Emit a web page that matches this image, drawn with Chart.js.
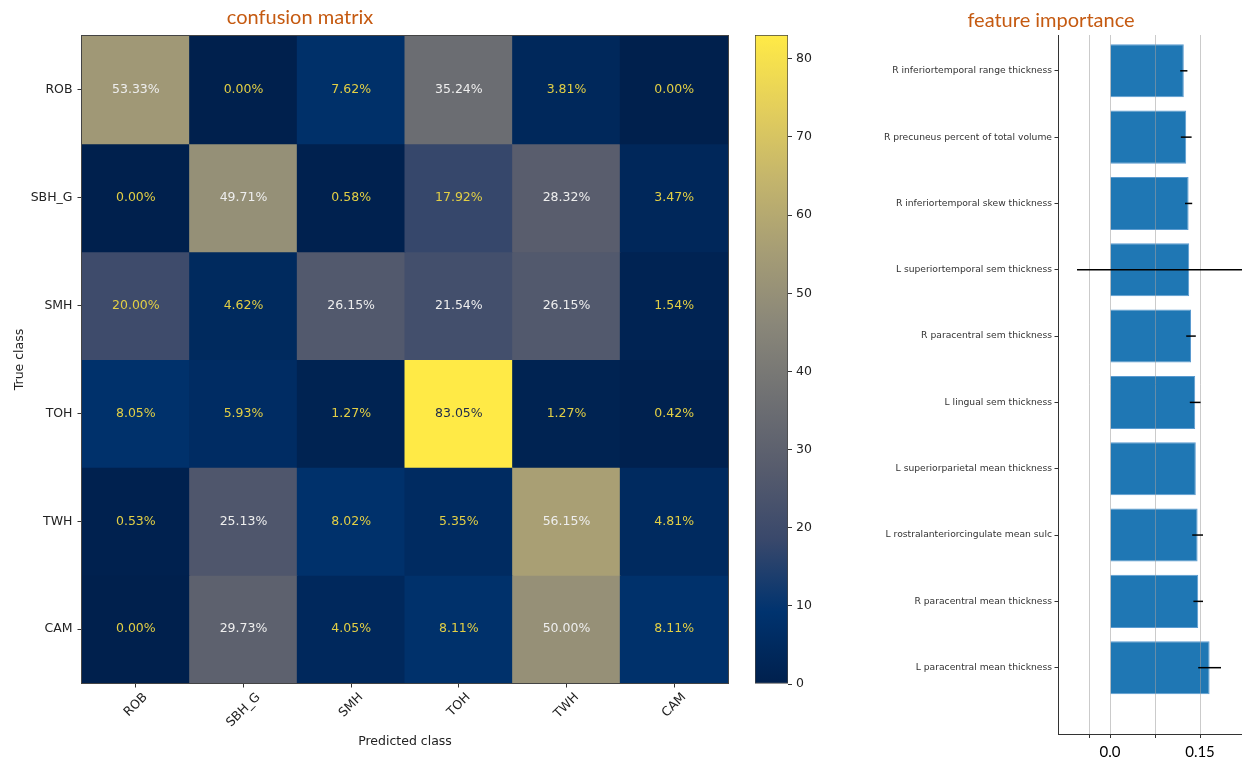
<!DOCTYPE html>
<html>
<head>
<meta charset="utf-8">
<title>confusion matrix / feature importance</title>
<script src="https://cdn.jsdelivr.net/npm/chart.js@4.4.1/dist/chart.umd.min.js"></script>
<style>
  html, body { margin: 0; padding: 0; background: #fff; }
  #page { position: relative; width: 1242px; height: 761px; overflow: hidden; }
  canvas { position: absolute; top: 0; }
  #matrix { left: 0; }
  #colorbar { left: 740px; }
  #importance { left: 860px; }
  .title {
    position: absolute;
    font-family: Lato, "Open Sans", sans-serif;
    font-size: 20px;
    line-height: 20px;
    color: #c55a11;
    white-space: nowrap;
    transform: translateX(-50%);
  }
</style>
</head>
<body>
<div id="page">
  <canvas id="matrix" width="740" height="761"></canvas>
  <canvas id="colorbar" width="80" height="761"></canvas>
  <canvas id="importance" width="382" height="761"></canvas>
  <div class="title" style="left:300px; top:6px">confusion matrix</div>
  <div class="title" style="left:1051px; top:9px">feature importance</div>
</div>

<script>
// ---- data ----
var classLabels = ['ROB', 'SBH_G', 'SMH', 'TOH', 'TWH', 'CAM'];

// rows = true class, columns = predicted class (percent)
var rowROB  = [53.33,  0.00,  7.62, 35.24,  3.81, 0.00];
var rowSBHG = [ 0.00, 49.71,  0.58, 17.92, 28.32, 3.47];
var rowSMH  = [20.00,  4.62, 26.15, 21.54, 26.15, 1.54];
var rowTOH  = [ 8.05,  5.93,  1.27, 83.05,  1.27, 0.42];
var rowTWH  = [ 0.53, 25.13,  8.02,  5.35, 56.15, 4.81];
var rowCAM  = [ 0.00, 29.73,  4.05,  8.11, 50.00, 8.11];
var matrixRows = [rowROB, rowSBHG, rowSMH, rowTOH, rowTWH, rowCAM];

var featureNames = [
  'R inferiortemporal range thickness',
  'R precuneus percent of total volume',
  'R inferiortemporal skew thickness',
  'L superiortemporal sem thickness',
  'R paracentral sem thickness',
  'L lingual sem thickness',
  'L superiorparietal mean thickness',
  'L rostralanteriorcingulate mean sulc',
  'R paracentral mean thickness',
  'L paracentral mean thickness'
];
var featureImportance = [0.123, 0.127, 0.131, 0.132, 0.135, 0.142, 0.143, 0.146, 0.147, 0.166];
var featureError      = [0.006, 0.009, 0.006, 0.187, 0.008, 0.009, 0.000, 0.009, 0.008, 0.019];
var featureTicks      = [-0.035, 0, 0.075, 0.15];
var featureTickLabels = ['', '0.0', '', '0.15'];

// ---- colour map (cividis) ----
var cividisStops = [
  [0, 32, 77], [0, 51, 111], [57, 72, 107], [87, 92, 109], [112, 113, 115],
  [138, 135, 121], [166, 157, 117], [196, 181, 108], [228, 207, 91], [255, 234, 70]
];
function cividis(t) {
  t = Math.max(0, Math.min(1, t));
  var n = cividisStops.length - 1;
  var p = t * n;
  var i = Math.min(Math.floor(p), n - 1);
  var f = p - i;
  var a = cividisStops[i], b = cividisStops[i + 1];
  return 'rgb(' + [0, 1, 2].map(function(k){ return Math.round(a[k] + (b[k] - a[k]) * f); }).join(',') + ')';
}

var cmMax = Math.max.apply(null, [].concat.apply([], matrixRows));

function textColour(v) {
  if (v > cmMax * 0.75) return '#1e2a4a';
  if (v > cmMax / 4) return '#eeeeee';
  return '#e2cf45';
}

Chart.defaults.font.family = '"DejaVu Sans", sans-serif';
Chart.defaults.animation = false;
Chart.defaults.plugins.legend.display = false;
Chart.defaults.plugins.tooltip.enabled = false;

// ---- confusion matrix ----
var matrixPlugin = {
  id: 'matrixPlugin',
  afterDatasetsDraw: function(chart) {
    var ctx = chart.ctx;
    ctx.save();
    ctx.font = '12.5px "DejaVu Sans"';
    ctx.textAlign = 'center';
    ctx.textBaseline = 'middle';
    chart.data.datasets.forEach(function(ds, r) {
      chart.getDatasetMeta(r).data.forEach(function(bar, c) {
        var v = matrixRows[r][c];
        var p = bar.getCenterPoint();
        ctx.fillStyle = textColour(v);
        ctx.fillText(v.toFixed(2) + '%', p.x, p.y);
      });
    });
    var a = chart.chartArea;
    ctx.strokeStyle = '#444';
    ctx.lineWidth = 1;
    ctx.strokeRect(Math.round(a.left) - 0.5, Math.round(a.top) - 0.5, Math.round(a.right - a.left) + 1, Math.round(a.bottom - a.top) + 1);

    // rotated x tick labels, centred on the tick like matplotlib
    var xs = chart.scales.x;
    ctx.fillStyle = '#222';
    classLabels.forEach(function(lab, i) {
      var x = xs.getPixelForTick(i);
      var w = ctx.measureText(lab).width;
      var bh = (w + 11) * Math.SQRT1_2;
      var cy = xs.top + 4.5 + 4 + bh / 2;
      ctx.save();
      ctx.translate(x, cy);
      ctx.rotate(-Math.PI / 4);
      ctx.fillText(lab, 0, 0);
      ctx.restore();
    });
    ctx.restore();
  }
};

new Chart(document.getElementById('matrix'), {
  type: 'bar',
  data: {
    labels: classLabels,
    datasets: matrixRows.map(function(row, r) {
      return {
        label: classLabels[r],
        data: classLabels.map(function() { return [r, r + 1]; }),
        backgroundColor: row.map(function(v) { return cividis(v / cmMax); }),
        borderWidth: 0,
        inflateAmount: 0.5,
        grouped: false,
        barPercentage: 1,
        categoryPercentage: 1
      };
    })
  },
  plugins: [matrixPlugin],
  options: {
    responsive: false,
    layout: { padding: { top: 36, right: 12, bottom: 0, left: 0 } },
    scales: {
      x: {
        type: 'category',
        grid: { drawOnChartArea: false, offset: false, tickLength: 4.5, color: '#333' },
        border: { display: false },
        ticks: { display: false },
        title: { display: true, text: 'Predicted class', color: '#222', font: { size: 12.5 }, padding: { top: 4, bottom: 11.5 } },
        afterFit: function(s) { s.height = 78; }
      },
      y: {
        type: 'linear',
        min: 0, max: 6, reverse: true,
        afterBuildTicks: function(s) { s.ticks = classLabels.map(function(_, i) { return { value: i + 0.5 }; }); },
        ticks: { autoSkip: false, padding: 5, color: '#222', font: { size: 12.5 },
                 callback: function(v, i) { return classLabels[i]; } },
        grid: { drawOnChartArea: false, tickLength: 4.5, color: '#333' },
        border: { display: false },
        title: { display: true, text: 'True class', color: '#222', font: { size: 12.5 }, padding: { top: 12, bottom: 0 } },
        afterFit: function(s) { s.width = 82; }
      }
    }
  }
});

// ---- colour bar ----
new Chart(document.getElementById('colorbar'), {
  type: 'bar',
  data: {
    labels: [''],
    datasets: [{
      data: [[0, cmMax]],
      backgroundColor: function(context) {
        var chart = context.chart;
        if (!chart.chartArea) return null;
        var ys = chart.scales.y;
        var g = chart.ctx.createLinearGradient(0, ys.getPixelForValue(0), 0, ys.getPixelForValue(cmMax));
        cividisStops.forEach(function(c, i) {
          g.addColorStop(i / (cividisStops.length - 1), 'rgb(' + c.join(',') + ')');
        });
        return g;
      },
      borderColor: '#444',
      borderWidth: 1,
      borderSkipped: false,
      barPercentage: 1,
      categoryPercentage: 1
    }]
  },
  options: {
    responsive: false,
    layout: { padding: { top: 35, right: 0, bottom: 77, left: 15 } },
    scales: {
      x: { display: false },
      y: {
        position: 'right',
        min: 0, max: cmMax,
        ticks: { stepSize: 10, includeBounds: false, padding: 4, color: '#222', font: { size: 12.5 } },
        grid: { drawOnChartArea: false, tickLength: 4, color: '#333' },
        border: { display: false },
        afterFit: function(s) { s.width = 32; }
      }
    }
  }
});

// ---- feature importance ----
var importancePlugin = {
  id: 'importancePlugin',
  afterDatasetsDraw: function(chart) {
    var ctx = chart.ctx, a = chart.chartArea, xs = chart.scales.x, ys = chart.scales.y;
    ctx.save();
    ctx.strokeStyle = 'rgba(160,160,160,0.55)';
    ctx.lineWidth = 1;
    featureTicks.forEach(function(t) {
      var px = Math.round(xs.getPixelForValue(t)) + 0.5;
      ctx.beginPath();
      ctx.moveTo(px, a.top);
      ctx.lineTo(px, a.bottom);
      ctx.stroke();
    });
    ctx.strokeStyle = '#000';
    ctx.lineWidth = 1.5;
    featureImportance.forEach(function(v, i) {
      var e = featureError[i];
      if (!e) return;
      var py = ys.getPixelForValue(i);
      ctx.beginPath();
      ctx.moveTo(xs.getPixelForValue(v - e), py);
      ctx.lineTo(xs.getPixelForValue(v + e), py);
      ctx.stroke();
    });
    ctx.restore();
  }
};

new Chart(document.getElementById('importance'), {
  type: 'bar',
  data: {
    datasets: [{
      data: featureImportance.map(function(v, i) { return { x: v, y: i }; }),
      backgroundColor: '#1f77b4',
      borderColor: '#5b9bd0',
      borderWidth: 1,
      barPercentage: 0.8,
      categoryPercentage: 1
    }]
  },
  plugins: [importancePlugin],
  options: {
    responsive: false,
    indexAxis: 'y',
    layout: { padding: { top: 35, right: 0, bottom: 0, left: 0 } },
    scales: {
      x: {
        type: 'linear',
        min: -0.0867, max: 0.22,
        afterBuildTicks: function(s) { s.ticks = featureTicks.map(function(v) { return { value: v }; }); },
        ticks: { autoSkip: false, maxRotation: 0, padding: 5, color: '#000',
                 font: { family: 'Lato, sans-serif', size: 15 },
                 callback: function(v, i) { return featureTickLabels[i]; } },
        grid: { drawOnChartArea: false, tickLength: 4, color: '#333' },
        border: { display: true, color: '#333' },
        afterFit: function(s) { s.height = 27; }
      },
      y: {
        type: 'linear',
        offset: false,
        min: -0.54, max: 10, reverse: true,
        afterBuildTicks: function(s) { s.ticks = featureNames.map(function(_, i) { return { value: i }; }); },
        ticks: { autoSkip: false, padding: 2.5, color: '#333', font: { size: 9.2 },
                 callback: function(v, i) { return featureNames[i]; } },
        grid: { drawOnChartArea: false, offset: false, tickLength: 3.5, color: '#333' },
        border: { display: true, color: '#333' },
        afterFit: function(s) { s.width = 198; }
      }
    }
  }
});
</script>
</body>
</html>
